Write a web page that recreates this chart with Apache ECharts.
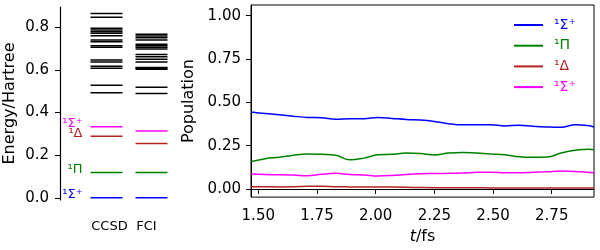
<!DOCTYPE html>
<html><head><meta charset="utf-8">
<script src="https://cdn.jsdelivr.net/npm/echarts@6/dist/echarts.min.js"></script>
<style>html,body{margin:0;padding:0;background:#fff}#c{width:600px;height:250px}</style>
</head><body><div id="c"></div>
<script>
// ---- Data ----
const methods = ['CCSD', 'FCI'];
const stateNames = ['¹Σ⁺', '¹Π', '¹Δ', '¹Σ⁺ '];
const stateColors = ['#0000ff', '#008000', '#b22222', '#ff00ff'];
const ccsdLow = [0.0, 0.119, 0.289, 0.333];
const fciLow = [0.0, 0.119, 0.255, 0.313];
const ccsdHigh = [0.492, 0.528, 0.607, 0.617, 0.636, 0.646, 0.705, 0.713, 0.731, 0.739, 0.759, 0.771, 0.778, 0.786, 0.794, 0.846, 0.864];
const fciHigh = [0.489, 0.518, 0.603, 0.607, 0.611, 0.636, 0.649, 0.661, 0.672, 0.697, 0.705, 0.712, 0.719, 0.739, 0.750, 0.758, 0.766];
const energyTicks = [0, 0.2, 0.4, 0.6, 0.8];

const times = [1.47, 1.53, 1.59, 1.65, 1.71, 1.77, 1.83, 1.89, 1.95, 2.01, 2.07, 2.13, 2.19, 2.25, 2.31, 2.37, 2.43, 2.49, 2.55, 2.61, 2.67, 2.73, 2.79, 2.85, 2.91, 2.93];
const popSigma = [0.444, 0.435, 0.428, 0.420, 0.413, 0.411, 0.402, 0.406, 0.406, 0.413, 0.407, 0.401, 0.398, 0.390, 0.377, 0.370, 0.370, 0.371, 0.364, 0.368, 0.362, 0.358, 0.356, 0.370, 0.365, 0.358];
const popPi = [0.158, 0.175, 0.183, 0.195, 0.202, 0.200, 0.195, 0.168, 0.178, 0.197, 0.200, 0.207, 0.205, 0.196, 0.207, 0.211, 0.207, 0.202, 0.198, 0.186, 0.183, 0.184, 0.208, 0.224, 0.229, 0.226];
const popDelta = [0.013, 0.013, 0.012, 0.013, 0.015, 0.016, 0.013, 0.012, 0.011, 0.011, 0.011, 0.010, 0.008, 0.007, 0.007, 0.007, 0.007, 0.006, 0.006, 0.006, 0.006, 0.006, 0.005, 0.006, 0.006, 0.006];
const popSigma2 = [0.086, 0.083, 0.082, 0.080, 0.076, 0.085, 0.090, 0.084, 0.081, 0.075, 0.078, 0.084, 0.088, 0.089, 0.090, 0.092, 0.096, 0.097, 0.094, 0.093, 0.097, 0.100, 0.103, 0.101, 0.095, 0.093];
const popTicksY = [0, 0.25, 0.5, 0.75, 1.0];
const timeTicks = [1.5, 1.75, 2.0, 2.25, 2.5, 2.75];

// ---- Chart ----
const FONT = 'DejaVu Sans';
const chart = echarts.init(document.getElementById('c'), null, {renderer: 'canvas', width: 600, height: 250});
const HALF = 16;

function levelItem(params, api) {
  const c = api.coord([api.value(0), api.value(1)]);
  return {type: 'line', shape: {x1: c[0] - HALF, y1: c[1], x2: c[0] + HALF, y2: c[1]},
          style: {stroke: api.visual('color'), lineWidth: 1.5}};
}
function stateRender(label, color) {
  return function (params, api) {
    const c = api.coord([api.value(0), api.value(1)]);
    const children = [{type: 'line', shape: {x1: c[0] - HALF, y1: c[1], x2: c[0] + HALF, y2: c[1]},
                       style: {stroke: color, lineWidth: 1.5}}];
    if (params.dataIndex === 0) {
      children.push({type: 'text', x: c[0] - HALF - 8, y: c[1] - 3,
        style: {text: label.trim(), fill: color, font: '13px "DejaVu Sans"', align: 'right', verticalAlign: 'middle'}});
    }
    return {type: 'group', children: children};
  };
}

const pops = [popSigma, popPi, popDelta, popSigma2];
const series = [];
series.push({type: 'custom', xAxisIndex: 0, yAxisIndex: 0, color: '#000', renderItem: levelItem,
  data: ccsdHigh.map(e => [0, e]).concat(fciHigh.map(e => [1, e]))});
stateNames.forEach((n, i) => {
  series.push({type: 'custom', xAxisIndex: 0, yAxisIndex: 0, renderItem: stateRender(n, stateColors[i]),
    data: [[0, ccsdLow[i]], [1, fciLow[i]]]});
});
stateNames.forEach((n, i) => {
  series.push({type: 'line', name: n, xAxisIndex: 1, yAxisIndex: 1, smooth: 0.4, showSymbol: false, symbol: 'none',
    color: stateColors[i], lineStyle: {width: 1.5, color: stateColors[i]},
    data: times.map((t, k) => [t, pops[i][k]])});
});

const option = {
  animation: false,
  textStyle: {fontFamily: FONT},
  grid: [
    {left: 84, width: 90, top: 7, bottom: 50, show: false},
    {left: 251, right: 6, top: 5, bottom: 51, show: true, borderColor: '#000', borderWidth: 1}
  ],
  legend: {
    orient: 'vertical', left: 508, top: 13, itemWidth: 29, itemHeight: 14, itemGap: 6.7,
    itemStyle: {opacity: 0},
    textStyle: {fontSize: 14, fontFamily: FONT, padding: [0, 0, 0, 6]},
    data: stateNames.map((n, i) => ({name: n, textStyle: {color: stateColors[i]}}))
  },
  xAxis: [
    {gridIndex: 0, type: 'category', data: methods, axisLine: {show: false}, axisTick: {show: false},
     axisLabel: {interval: 0, margin: 20, color: '#000', fontSize: 13, fontFamily: FONT,
       formatter: v => v === 'CCSD' ? '{a|' + v + '}' : '{b|' + v + '}',
       rich: {a: {fontSize: 13, fontFamily: FONT, color: '#000', padding: [0, 0, 0, 6]},
              b: {fontSize: 13, fontFamily: FONT, color: '#000', padding: [0, 10, 0, 0]}}}},
    {gridIndex: 1, type: 'value', min: 1.469, max: 2.93,
     axisLine: {show: true, lineStyle: {color: '#000', width: 1}},
     axisTick: {show: true, length: 5, customValues: timeTicks, lineStyle: {color: '#000'}},
     axisLabel: {customValues: timeTicks, formatter: v => v.toFixed(2), fontSize: 15, color: '#000', margin: 12, fontFamily: FONT},
     splitLine: {show: false},
     name: '{i|t}/fs', nameLocation: 'middle', nameGap: 31,
     nameTextStyle: {fontSize: 16, color: '#000', fontFamily: FONT,
       rich: {i: {fontSize: 16, fontStyle: 'italic', color: '#000', fontFamily: FONT}}}}
  ],
  yAxis: [
    {gridIndex: 0, type: 'value', min: -0.01, max: 0.894, offset: 24,
     axisLine: {show: true, lineStyle: {color: '#000', width: 1.2}},
     axisTick: {show: true, length: 5, customValues: energyTicks, lineStyle: {color: '#000'}},
     axisLabel: {customValues: energyTicks, formatter: v => v.toFixed(1), fontSize: 15, color: '#000', margin: 11, fontFamily: FONT},
     splitLine: {show: false},
     name: 'Energy/Hartree', nameLocation: 'middle', nameGap: 42,
     nameTextStyle: {fontSize: 16, color: '#000', fontFamily: FONT}},
    {gridIndex: 1, type: 'value', min: -0.047, max: 1.062,
     axisLine: {show: true, lineStyle: {color: '#000', width: 1}},
     axisTick: {show: true, length: 5, customValues: popTicksY, lineStyle: {color: '#000'}},
     axisLabel: {customValues: popTicksY, formatter: v => v.toFixed(2), fontSize: 15, color: '#000', margin: 10, fontFamily: FONT},
     splitLine: {show: false},
     name: 'Population', nameLocation: 'middle', nameGap: 53,
     nameTextStyle: {fontSize: 16, color: '#000', fontFamily: FONT}}
  ],
  series: series
};
chart.setOption(option);
</script></body></html>
